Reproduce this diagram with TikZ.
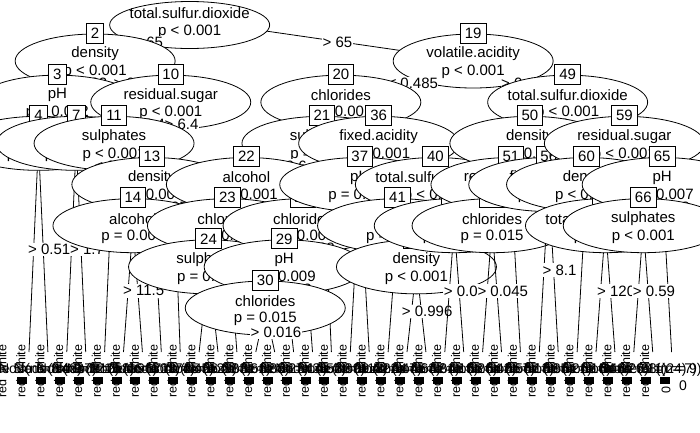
\documentclass[tikz,border=0pt]{standalone}
\usepackage{fontspec}
\setmainfont{Liberation Sans}
\usetikzlibrary{shapes.geometric,calc}
\newcommand\fs{\fontsize{15}{17}\selectfont}
\newcommand\fr{\fontsize{12.5}{14}\selectfont}
\newcommand\fn{\fontsize{14}{16}\selectfont}
\tikzset{
 ell/.style={ellipse, draw, fill=white, minimum width=160pt, minimum height=54pt, inner sep=0pt, line width=0.8pt},
 idb/.style={draw, fill=white, inner xsep=4.5pt, inner ysep=0pt, minimum height=20pt, line width=0.8pt, font=\fs},
 txt/.style={inner sep=0pt, font=\fs},
 elab/.style={fill=white, inner xsep=0.5pt, inner ysep=1.5pt, font=\fs},
 edge/.style={line width=0.8pt},
 rot/.style={rotate=90, anchor=west, inner sep=0pt, font=\fr},
 tlab/.style={inner sep=0pt, font=\fn},
 bar/.style={fill=black}
}
\newcommand\myinner[3]{%
 \node[ell] (n#1) at (c#1) {};
 \node[idb] (b#1) at ([yshift=28pt]c#1) {#1};
 \node[txt] (v#1) at ([yshift=7pt]c#1) {#2};
 \node[txt] (p#1) at ([yshift=-11pt]c#1) {#3};
}
\newcommand\myedge[2]{\draw[edge] (#1) -- (#2);}
\newcommand\mylab[4]{\path let \p1=(#1), \p2=(#2), \p3=(#3) in node[elab] at ({0.5*\x1+0.5*\x2+6pt},{0.5*\y1+0.5*\y3-2pt}) {#4};}
\begin{document}
\begin{tikzpicture}[x=1pt,y=-1pt]
\clip (0,0) rectangle (700,432);
\fill[white] (0,0) rectangle (700,432);
% terminal tops
\foreach \k/\id in {0/5,1/6,2/8,3/9,4/12,5/15,6/16,7/17,8/18,9/25,10/26,11/27,12/31,13/32,14/33,15/34,16/35,17/38,18/39,19/42,20/44,21/45,22/47,23/48,24/53,25/54,26/55,27/57,28/58,29/61,30/63,31/64,32/67,33/68,34/69}
  \coordinate (t\id) at ({29+18.9*\k},352);
% inner node centres
\coordinate (c1) at (189.65,20);
\foreach \id/\x/\d in {2/95.15/2,3/57.35/3,4/38.45/4,7/76.25/4,10/170.75/3,11/114.05/4,13/151.85/5,14/132.95/6,
  19/473.15/2,20/340.85/3,21/321.95/4,22/246.35/5,23/227.45/6,24/208.55/7,28/303.05/6,29/284.15/7,30/265.25/8,
  36/378.65/4,37/359.75/5,40/435.35/5,41/397.55/6,43/416.45/7,46/454.25/6,
  49/567.65/3,50/529.85/4,51/510.95/5,52/492.05/6,56/548.75/5,59/624.35/4,60/586.55/5,62/605.45/6,65/662.15/5,66/643.25/6}
  \coordinate (c\id) at (\x,{33+41.17*(\d-2)+28});
% ---- node 1
\myedge{c1}{c2}\myedge{c1}{c19}
\node[ell, minimum height=47pt] (n1) at (189.65,25) {};
\node[txt] (v1) at (189.65,13) {total.sulfur.dioxide};
\node[txt] (p1) at (189.65,32) {p < 0.001};
\mylab{c1}{c2}{c2}{≤ 65}\mylab{c1}{c19}{c2}{> 65}
% ---- node 2
\myedge{c2}{c3}\myedge{c2}{c10}
\myinner{2}{density}{p < 0.001}
\mylab{c2}{c3}{c3}{≤ 0.992}\mylab{c2}{c10}{c3}{> 0.992}
% ---- node 3
\myedge{c3}{c4}\myedge{c3}{c7}
\myinner{3}{pH}{p = 0.002}
\mylab{c3}{c4}{c4}{≤ 3.2}\mylab{c3}{c7}{c4}{> 3.2}
% ---- node 4
\myedge{c4}{t5}\myedge{c4}{t6}
\myinner{4}{alcohol}{p = 0.012}
\mylab{c4}{t6}{t5}{> 0.51}
% ---- node 7
\myedge{c7}{t8}\myedge{c7}{t9}
\myinner{7}{chlorides}{p = 0.031}
\mylab{c7}{t9}{t8}{> 1.7}
% ---- node 10
\myedge{c10}{c11}\myedge{c10}{t18}
\myinner{10}{residual.sugar}{p < 0.001}
\mylab{c10}{c11}{c11}{≤ 6.4}\mylab{c10}{t18}{c11}{> 6.4}
% ---- node 11
\myedge{c11}{t12}\myedge{c11}{c13}
\myinner{11}{sulphates}{p < 0.001}
\mylab{c11}{t12}{c13}{≤ 0.45}\mylab{c11}{c13}{c13}{> 0.45}
% ---- node 13
\myedge{c13}{c14}\myedge{c13}{t17}
\myinner{13}{density}{p = 0.004}
\mylab{c13}{c14}{c14}{≤ 0.995}\mylab{c13}{t17}{c14}{> 0.995}
% ---- node 14
\myedge{c14}{t15}\myedge{c14}{t16}
\myinner{14}{alcohol}{p = 0.006}
\mylab{c14}{t16}{t15}{> 11.5}
% ---- node 19
\myedge{c19}{c20}\myedge{c19}{c49}
\myinner{19}{volatile.acidity}{p < 0.001}
\mylab{c19}{c20}{c20}{≤ 0.485}\mylab{c19}{c49}{c20}{> 0.485}
% ---- node 20
\myedge{c20}{c21}\myedge{c20}{c36}
\myinner{20}{chlorides}{p < 0.001}
\mylab{c20}{c21}{c21}{≤ 0.05}\mylab{c20}{c36}{c21}{> 0.05}
% ---- node 21
\myedge{c21}{c22}\myedge{c21}{t35}
\myinner{21}{sulphates}{p = 0.002}
\mylab{c21}{c22}{c22}{≤ 0.6}\mylab{c21}{t35}{c22}{> 0.6}
% ---- node 22
\myedge{c22}{c23}\myedge{c22}{c28}
\myinner{22}{alcohol}{p < 0.001}
\mylab{c22}{c23}{c23}{≤ 10.8}\mylab{c22}{c28}{c23}{> 10.8}
% ---- node 23
\myedge{c23}{c24}\myedge{c23}{t27}
\myinner{23}{chlorides}{p = 0.003}
\mylab{c23}{c24}{c24}{≤ 0.07}\mylab{c23}{t27}{c24}{> 0.07}
% ---- node 24
\myedge{c24}{t25}\myedge{c24}{t26}
\myinner{24}{sulphates}{p = 0.021}
\mylab{c24}{t26}{t25}{> 0.55}
% ---- node 28
\myedge{c28}{c29}\myedge{c28}{t34}
\myinner{28}{chlorides}{p = 0.005}
\mylab{c28}{c29}{c29}{≤ 0.08}\mylab{c28}{t34}{c29}{> 0.08}
% ---- node 29
\myedge{c29}{c30}\myedge{c29}{t33}
\myinner{29}{pH}{p = 0.009}
\mylab{c29}{c30}{c30}{≤ 3.3}\mylab{c29}{t33}{c30}{> 3.3}
% ---- node 30
\myedge{c30}{t31}\myedge{c30}{t32}
\myinner{30}{chlorides}{p = 0.015}
\mylab{c30}{t32}{t31}{> 0.016}
% ---- node 36
\myedge{c36}{c37}\myedge{c36}{c40}
\myinner{36}{fixed.acidity}{p < 0.001}
\mylab{c36}{c37}{c37}{≤ 7.2}\mylab{c36}{c40}{c37}{> 7.2}
% ---- node 37
\myedge{c37}{t38}\myedge{c37}{t39}
\myinner{37}{pH}{p = 0.004}
\mylab{c37}{t39}{t38}{> 3.2}
% ---- node 40
\myedge{c40}{c41}\myedge{c40}{c46}
\myinner{40}{total.sulfur.dioxide}{p < 0.001}
\mylab{c40}{c41}{c41}{≤ 98}\mylab{c40}{c46}{c41}{> 98}
% ---- node 41
\myedge{c41}{t42}\myedge{c41}{c43}
\myinner{41}{pH}{p = 0.003}
\mylab{c41}{t42}{c43}{≤ 3.3}\mylab{c41}{c43}{c43}{> 3.3}
% ---- node 43
\myedge{c43}{t44}\myedge{c43}{t45}
\myinner{43}{density}{p < 0.001}
\mylab{c43}{t45}{t44}{> 0.996}
% ---- node 46
\myedge{c46}{t47}\myedge{c46}{t48}
\myinner{46}{chlorides}{p = 0.008}
\mylab{c46}{t48}{t47}{> 0.05}
% ---- node 49
\myedge{c49}{c50}\myedge{c49}{c59}
\myinner{49}{total.sulfur.dioxide}{p < 0.001}
\mylab{c49}{c50}{c50}{≤ 80}\mylab{c49}{c59}{c50}{> 80}
% ---- node 50
\myedge{c50}{c51}\myedge{c50}{c56}
\myinner{50}{density}{p < 0.001}
\mylab{c50}{c51}{c51}{≤ 0.995}\mylab{c50}{c56}{c51}{> 0.995}
% ---- node 51
\myedge{c51}{c52}\myedge{c51}{t55}
\myinner{51}{residual.sugar}{p = 0.002}
\mylab{c51}{c52}{c52}{≤ 2.1}\mylab{c51}{t55}{c52}{> 2.1}
% ---- node 52
\myedge{c52}{t53}\myedge{c52}{t54}
\myinner{52}{chlorides}{p = 0.015}
\mylab{c52}{t54}{t53}{> 0.045}
% ---- node 56
\myedge{c56}{t57}\myedge{c56}{t58}
\myinner{56}{fixed.acidity}{p = 0.011}
\mylab{c56}{t58}{t57}{> 8.1}
% ---- node 59
\myedge{c59}{c60}\myedge{c59}{c65}
\myinner{59}{residual.sugar}{p < 0.001}
\mylab{c59}{c60}{c60}{≤ 1.8}\mylab{c59}{c65}{c60}{> 1.8}
% ---- node 60
\myedge{c60}{t61}\myedge{c60}{c62}
\myinner{60}{density}{p < 0.001}
\mylab{c60}{t61}{c62}{≤ 0.997}\mylab{c60}{c62}{c62}{> 0.997}
% ---- node 62
\myedge{c62}{t63}\myedge{c62}{t64}
\myinner{62}{total.sulfur.dioxide}{p = 0.004}
\mylab{c62}{t64}{t63}{> 120}
% ---- node 65
\myedge{c65}{c66}\myedge{c65}{t69}
\myinner{65}{pH}{p = 0.007}
\mylab{c65}{c66}{c66}{≤ 3.3}\mylab{c65}{t69}{c66}{> 3.3}
% ---- node 66
\myedge{c66}{t67}\myedge{c66}{t68}
\myinner{66}{sulphates}{p < 0.001}
\mylab{c66}{t68}{t67}{> 0.59}
% ---- terminal panels
\begin{scope}
\clip (0,344) rectangle (700,432);
\foreach \k in {0,...,34}
  \node[rot] (w\k) at ({2+18.9*\k},374) {white};
\end{scope}
\foreach \k/\id/\n in {0/5/143,1/6/37,2/8/212,3/9/58,4/12/96,5/15/301,6/16/74,7/17/45,8/18/129,9/25/33,10/26/61,11/27/88,12/31/27,13/32/14,14/33/52,15/34/39,16/35/118,17/38/22,18/39/47,19/42/63,20/44/31,21/45/19,22/47/26,23/48/42,24/53/57,25/54/13,26/55/35,27/57/21,28/58/16,29/61/48,30/63/29,31/64/11,32/67/24,33/68/9}{
  \node[tlab] (L\id) at ({29+18.9*\k},370) {Node \id{} (n = \n)};
  \fill[bar] ({17+18.9*\k},377) rectangle ({27+18.9*\k},384);
  \node[rot] (r\id) at ({2+18.9*\k},398) {red};
}
\node[rot] (r69) at ({2+18.9*34},398) {red};
\node[tlab] (L69) at (648,370) {Node 69 (n = 7)};
\fill[bar] ({17+18.9*34},377) rectangle ({27+18.9*34},384);
\node[rot] (z69) at (666,394) {0};
\node[tlab] (y0) at (683,386) {0};
\end{tikzpicture}
\end{document}
